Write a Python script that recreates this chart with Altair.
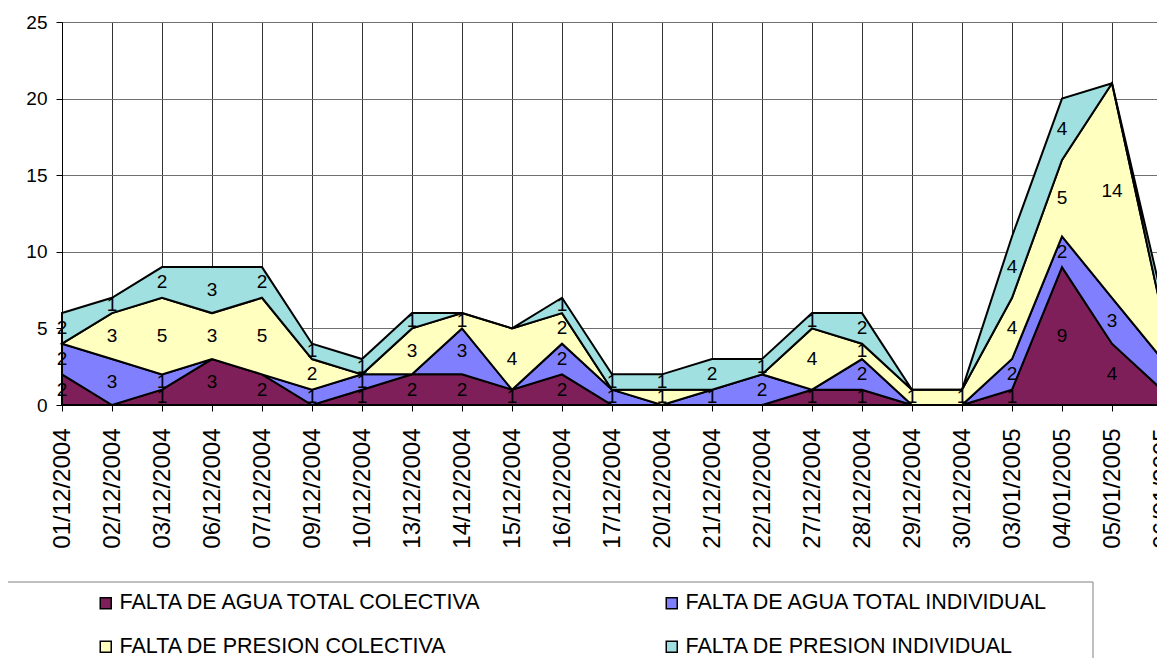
import altair as alt
import pandas as pd

fechas = ["01/12/2004", "02/12/2004", "03/12/2004", "06/12/2004", "07/12/2004",
          "09/12/2004", "10/12/2004", "13/12/2004", "14/12/2004", "15/12/2004",
          "16/12/2004", "17/12/2004", "20/12/2004", "21/12/2004", "22/12/2004",
          "27/12/2004", "28/12/2004", "29/12/2004", "30/12/2004", "03/01/2005",
          "04/01/2005", "05/01/2005", "06/01/2005"]

series = ["FALTA DE AGUA TOTAL COLECTIVA", "FALTA DE AGUA TOTAL INDIVIDUAL",
          "FALTA DE PRESION COLECTIVA", "FALTA DE PRESION INDIVIDUAL"]
colores = ["#7F1F5A", "#8080FF", "#FFFFC0", "#A0E0E0"]

agua_colectiva =    [2, 0, 1, 3, 2, 0, 1, 2, 2, 1, 2, 0, 0, 0, 0, 1, 1, 0, 0, 1, 9, 4, 1]
agua_individual =   [2, 3, 1, 0, 0, 1, 1, 0, 3, 0, 2, 1, 0, 1, 2, 0, 2, 0, 0, 2, 2, 3, 2]
presion_colectiva = [0, 3, 5, 3, 5, 2, 0, 3, 1, 4, 2, 0, 1, 0, 0, 4, 1, 1, 1, 4, 5, 14, 3]
presion_individual = [2, 1, 2, 3, 2, 1, 1, 1, 0, 0, 1, 1, 1, 2, 1, 1, 2, 0, 0, 4, 4, 0, 1]

rows = []
for k, (nombre, vals) in enumerate(zip(series, [agua_colectiva, agua_individual,
                                                 presion_colectiva, presion_individual])):
    for f, v in zip(fechas, vals):
        rows.append({"fecha": f, "serie": nombre, "orden": k, "valor": v})
df = pd.DataFrame(rows)

FONT = "Liberation Sans"

x_axis = alt.Axis(title=None, grid=True, gridColor="#333333", gridWidth=1,
                  domainColor="black", tickColor="black", tickSize=6,
                  labelAngle=270, labelFontSize=24, labelPadding=17,
                  labelOverlap=False, labelFont=FONT, labelColor="black")
y_axis = alt.Axis(title=None, grid=True, gridColor="#707070", gridWidth=1,
                  values=[0, 5, 10, 15, 20, 25], domainColor="black",
                  tickColor="black", tickSize=6, labelFontSize=19,
                  labelPadding=9, labelFont=FONT, labelColor="black")
x_scale = alt.Scale(type="point", padding=0, range=[0, 1100])
y_scale = alt.Scale(domain=[0, 25], nice=False)

box = alt.Chart(alt.Data(values=[{"a": 1}])).mark_rect(
    fill="white", stroke="#808080", strokeWidth=1
).encode(x=alt.value(-55), x2=alt.value(1031), y=alt.value(560), y2=alt.value(760))

area = alt.Chart(df).mark_area(stroke="black", strokeWidth=2, opacity=1).encode(
    x=alt.X("fecha:N", sort=fechas, scale=x_scale, axis=x_axis),
    y=alt.Y("valor:Q", stack="zero", scale=y_scale, axis=y_axis),
    color=alt.Color("serie:N", scale=alt.Scale(domain=series, range=colores),
                    legend=alt.Legend(title=None, orient="none", legendX=33, legendY=570,
                                      direction="horizontal",
                                      columns=2, columnPadding=176, rowPadding=21,
                                      symbolType="square", symbolSize=121,
                                      symbolStrokeColor="black", symbolStrokeWidth=1.5,
                                      symbolOpacity=1, labelFontSize=21.5, labelFont=FONT,
                                      labelColor="black", labelOffset=3, labelLimit=700)),
    order=alt.Order("orden:Q"),
)

labels = alt.Chart(df).transform_stack(
    stack="valor", groupby=["fecha"], as_=["y0", "y1"],
    sort=[alt.SortField("orden", order="ascending")]
).transform_calculate(
    mid="(datum.y0 + datum.y1) / 2"
).transform_filter("datum.valor > 0").mark_text(
    fontSize=19, font=FONT, color="black", baseline="middle", align="center"
).encode(
    x=alt.X("fecha:N", sort=fechas, scale=x_scale, axis=x_axis),
    y=alt.Y("mid:Q", scale=y_scale, axis=y_axis),
    text=alt.Text("valor:Q"),
)

chart = alt.layer(box, area, labels).properties(
    width=1095, height=383,
    padding={"left": 54, "top": 14, "right": 0, "bottom": 253},
    autosize=alt.AutoSizeParams(type="none"),
).configure_view(stroke=None).configure(background="white")

chart.save("out.html", embed_options={"renderer": "svg", "actions": False})
